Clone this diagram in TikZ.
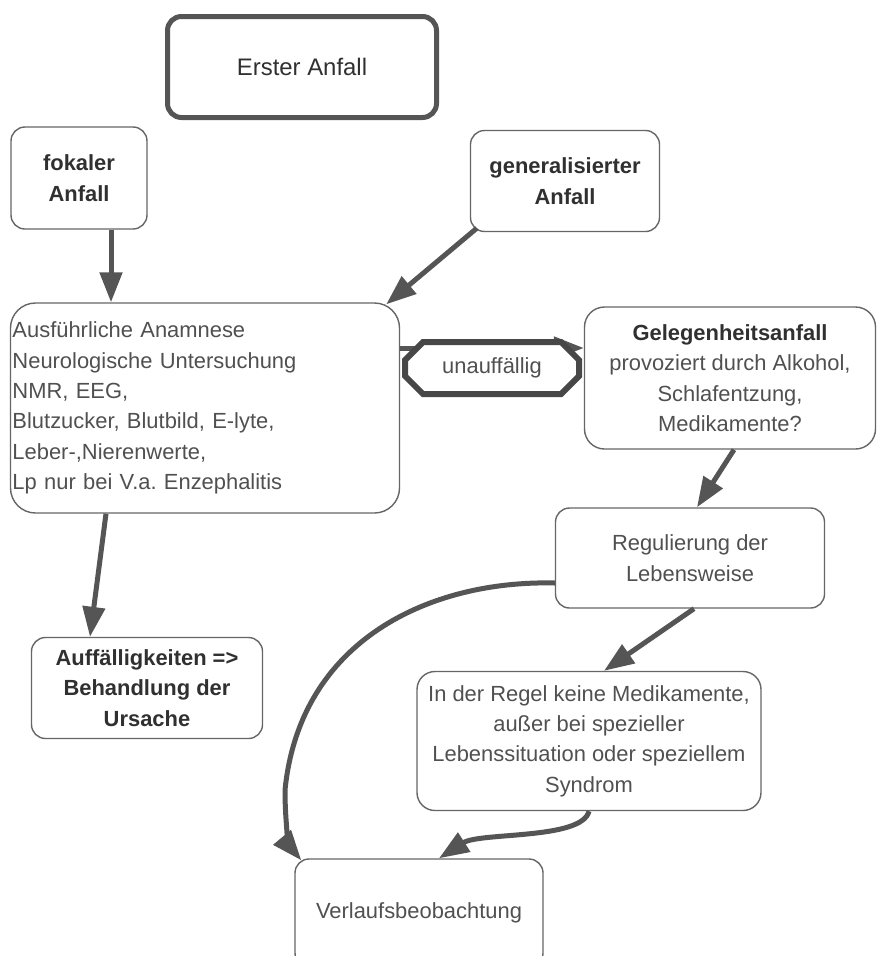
\documentclass[tikz,border=0pt]{standalone}
\usepackage{fontspec}
\setmainfont{Liberation Sans}
\usetikzlibrary{arrows.meta,shapes.misc}
\frenchspacing
\definecolor{boxline}{HTML}{666666}
\definecolor{arrcol}{HTML}{555555}
\definecolor{txt}{HTML}{505050}
\definecolor{btxt}{HTML}{303030}
\tikzset{
  box/.style={draw=boxline, line width=1.4bp, rounded corners=14bp, fill=white,
    inner sep=2bp, align=center, text=txt, font=\fontsize{22}{30.5}\selectfont},
  boldbox/.style={box, text=btxt, font=\fontsize{22}{30.5}\selectfont\bfseries},
  thickbox/.style={box, line width=5bp, draw=arrcol, text=btxt, font=\fontsize{24}{30}\selectfont},
  labelbox/.style={chamfered rectangle, chamfered rectangle xsep=9bp, chamfered rectangle ysep=9bp,
    draw=black!72, line width=6bp, fill=white, text=txt, inner sep=2bp,
    font=\fontsize{22}{30}\selectfont},
  arr/.style={draw=arrcol, line width=5bp, -{Triangle[length=30bp,width=22bp]}},
}
\begin{document}
\begin{tikzpicture}[x=1bp,y=-1bp]
\useasboundingbox (0,0) rectangle (877,956);
\fill[white] (0,0) rectangle (877,956);

\node[thickbox, minimum width=269bp, minimum height=101bp] (erster) at (302,67) {Erster Anfall};
\node[boldbox, minimum width=136bp, minimum height=102bp] (fokal) at (79,178) {fokaler\\Anfall};
\node[boldbox, minimum width=189bp, minimum height=101bp] (general) at (565,181) {generalisierter\\Anfall};
\node[box, rounded corners=25bp, minimum width=389bp, minimum height=210bp, text width=385bp, align=left] (big) at (205,408)
  {Ausführliche Anamnese\\Neurologische Untersuchung\\NMR, EEG,\\Blutzucker, Blutbild, E-lyte,\\Leber-,Nierenwerte,\\Lp nur bei V.a. Enzephalitis};
\node[box, rounded corners=20bp, minimum width=291bp, minimum height=142bp] (gel) at (730,378)
  {\textcolor{btxt}{\bfseries Gelegenheitsanfall}\\provoziert durch Alkohol,\\Schlafentzung,\\Medikamente?};
\node[box, minimum width=269bp, minimum height=100bp] (reg) at (690,558) {Regulierung der\\Lebensweise};
\node[boldbox, minimum width=231bp, minimum height=101bp] (auff) at (147,688) {Auffälligkeiten =>\\Behandlung der\\Ursache};
\node[box, rounded corners=18bp, minimum width=344bp, minimum height=139bp] (regel) at (589,741)
  {In der Regel keine Medikamente,\\außer bei spezieller\\Lebenssituation oder speziellem\\Syndrom};
\node[box, minimum width=248bp, minimum height=108bp] (verl) at (419,913) {Verlaufsbeobachtung};

% connectors
\draw[arr] ([xshift=32bp]fokal.south) -- ([xshift=32bp]fokal.south |- big.north);
\draw[arr] ([shift={(7bp,4bp)}]general.south west) -- ([shift={(-14bp,-2bp)}]big.north east);
\draw[arr] ([yshift=60bp]big.east) -- ([yshift=60bp]big.east -| gel.west);
\node[labelbox, minimum width=174bp, minimum height=52bp] (unauff) at (492,368) {unauffällig};
\draw[arr] ([xshift=4bp]gel.south) -- ([xshift=7bp]reg.north);
\draw[arr] ([xshift=-99bp]big.south) -- ([xshift=-57bp]auff.north);
\draw[arr] ([xshift=4bp]reg.south) -- ([xshift=15bp]regel.north);
\draw[arr] ([yshift=-25bp]reg.west) .. controls (430,580) and (300,640) .. (285,790)
  .. controls (285,830) and (291,848) .. ([shift={(7bp,-2bp)}]verl.north west);
\draw[arr] (regel.south) .. controls (582,840) and (480,832) .. ([xshift=20bp]verl.north);
\end{tikzpicture}
\end{document}
